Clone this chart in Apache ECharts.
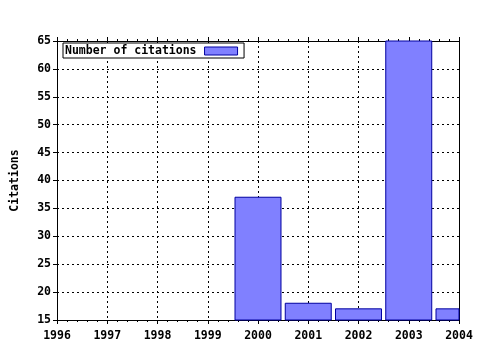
<!DOCTYPE html>
<html><head><meta charset="utf-8">
<script src="https://cdn.jsdelivr.net/npm/echarts@6/dist/echarts.min.js"></script>
<style>html,body{margin:0;padding:0;background:#fff}#c{width:480px;height:350px}</style>
</head><body><div id="c"></div>
<script>
const years = [2000, 2001, 2002, 2003, 2004];
const citations = [37, 18, 17, 65, 17];
const seriesName = 'Number of citations';
const yName = 'Citations';

const FILL = '#8080ff', EDGE = '#0000a0';
const font = {fontFamily: 'DejaVu Sans Mono', fontWeight: 'bold', fontSize: 11.5, color: '#000'};
const chart = echarts.init(document.getElementById('c'), null, {renderer: 'canvas'});
const axisLine = {show: true, lineStyle: {color: '#000', width: 1}};
const split = {show: true, lineStyle: {color: '#000', type: [2, 3], width: 1}};
chart.setOption({
  animation: false,
  backgroundColor: '#fff',
  grid: {left: 57, right: 21, top: 41, bottom: 30, outerBoundsMode: 'none', containLabel: false},
  legend: {
    left: 63, top: 43, orient: 'horizontal', align: 'right',
    backgroundColor: '#fff', borderColor: '#000', borderWidth: 1,
    padding: [2, 6, 1, 2], itemWidth: 33, itemHeight: 8, itemGap: 0,
    textStyle: Object.assign({}, font, {padding: [0, 3, 0, 0], lineHeight: 11}),
    icon: 'rect',
    data: [{name: seriesName, itemStyle: {color: FILL, borderColor: EDGE, borderWidth: 1}}]
  },
  xAxis: [{
    type: 'value', min: 1996, max: 2004, interval: 1, position: 'bottom',
    axisLine: axisLine,
    axisTick: {show: true, length: 4, lineStyle: {color: '#000'}},
    minorTick: {show: true, splitNumber: 5, length: 2, lineStyle: {color: '#000'}},
    axisLabel: Object.assign({}, font, {margin: 10, formatter: v => String(v)}),
    splitLine: split
  }, {
    type: 'value', min: 1996, max: 2004, interval: 1, position: 'top',
    axisLine: axisLine,
    axisTick: {show: true, length: 4, lineStyle: {color: '#000'}},
    minorTick: {show: true, splitNumber: 5, length: 2, lineStyle: {color: '#000'}},
    axisLabel: {show: false}, splitLine: {show: false}
  }],
  yAxis: [{
    type: 'value', min: 15, max: 65, interval: 5, position: 'left',
    name: yName, nameLocation: 'middle', nameGap: 36, nameRotate: 90,
    nameTextStyle: font,
    axisLine: axisLine,
    axisTick: {show: true, length: 4, lineStyle: {color: '#000'}},
    axisLabel: Object.assign({}, font, {margin: 6}),
    splitLine: split
  }, {
    type: 'value', min: 15, max: 65, interval: 5, position: 'right',
    axisLine: axisLine, axisTick: {show: false}, axisLabel: {show: false}, splitLine: {show: false}
  }],
  series: [{
    name: seriesName, type: 'custom', xAxisIndex: 0, yAxisIndex: 0,
    itemStyle: {color: FILL, borderColor: EDGE, borderWidth: 1},
    encode: {x: 0, y: 1},
    data: years.map((y, i) => [y, citations[i]]),
    renderItem: function (params, api) {
      const x = api.value(0), v = api.value(1);
      const top = api.coord([x, v]);
      const base = api.coord([x, 0]);
      const w = api.size([1, 0])[0] * 0.915;
      const shape = echarts.graphic.clipRectByRect(
        {x: top[0] - w / 2, y: top[1], width: w, height: base[1] - top[1]},
        {x: params.coordSys.x, y: params.coordSys.y, width: params.coordSys.width, height: params.coordSys.height}
      );
      if (!shape) return null;
      return {type: 'rect', shape: shape,
        style: {fill: FILL, stroke: EDGE, lineWidth: 1}};
    }
  }]
});
</script></body></html>
